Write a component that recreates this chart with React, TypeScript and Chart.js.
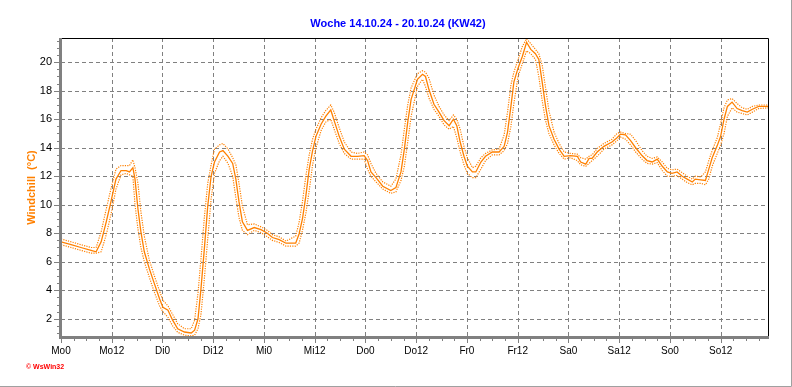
import React, { useEffect, useRef } from "react";
import { Chart, registerables } from "chart.js";

Chart.register(...registerables);

const chartTitle = "Woche 14.10.24 - 20.10.24 (KW42)";
const yAxisTitle = "Windchill  (°C)";
const copyright = "© WsWin32";
const xTickLabels = ["Mo0", "Mo12", "Di0", "Di12", "Mi0", "Mi12", "Do0", "Do12", "Fr0", "Fr12", "Sa0", "Sa12", "So0", "So12"];
const yTickValues = [2, 4, 6, 8, 10, 12, 14, 16, 18, 20];

// hours since Monday 0:00
const hours = [
  0, 2.4, 4.7, 7.1, 8.3, 9.5, 10.7, 11.8, 13.0, 14.2,
  15.4, 16.2, 17.0, 17.5, 18.2, 18.9, 19.7, 20.9, 22.1, 23.3,
  24.1, 25.3, 26.4, 27.6, 29.2, 30.8, 31.6, 32.4, 33.1, 33.9,
  34.7, 35.5, 36.3, 37.5, 38.3, 39.5, 40.6, 41.35, 42.1, 42.9,
  44.1, 45.7, 47.3, 48.8, 50.0, 51.6, 53.2, 55.5, 56.3, 57.1,
  57.9, 58.7, 59.5, 60.3, 61.5, 62.6, 63.8, 64.6, 65.8, 67.0,
  68.6, 70.1, 71.7, 72.5, 73.3, 74.5, 76.1, 78.0, 79.2, 80.4,
  81.2, 82.0, 82.8, 84.3, 85.5, 86.2, 87.0, 88.2, 89.4, 90.6,
  91.8, 92.8, 93.6, 94.4, 95.3, 96.1, 97.3, 98.1, 99.3, 100.4,
  102.0, 103.6, 104.8, 105.6, 106.4, 107.1, 108.1, 109.1, 110.1, 111.1,
  112.2, 113.0, 113.8, 114.6, 115.4, 116.6, 117.8, 119.0, 120.5, 122.1,
  122.9, 124.1, 124.9, 125.6, 126.8, 128.4, 130.3, 131.5, 132.3, 133.5,
  134.7, 135.9, 137.4, 138.6, 139.8, 141.0, 142.2, 143.4, 144.5, 145.7,
  146.9, 148.1, 149.3, 150.0, 151.3, 152.4, 153.2, 154.0, 155.2, 156.0,
  156.8, 157.6, 158.7, 159.9, 161.1, 162.3, 163.5, 165.0, 167.2,
];

const windchill = [
  7.4, 7.2, 7.0, 6.8, 6.7, 7.4, 8.8, 10.2, 11.8, 12.4,
  12.4, 12.3, 12.6, 11.8, 9.7, 8.1, 6.7, 5.5, 4.45, 3.4,
  2.8, 2.6, 1.9, 1.3, 1.07, 1.0, 1.2, 2.0, 4.1, 6.9,
  9.9, 12.0, 13.0, 13.7, 13.8, 13.4, 12.9, 11.8, 10.2, 8.8,
  8.2, 8.4, 8.25, 8.0, 7.7, 7.55, 7.3, 7.3, 7.95, 9.0,
  10.6, 12.5, 13.8, 14.8, 15.65, 16.2, 16.65, 15.9, 14.8, 13.9,
  13.4, 13.4, 13.45, 13.1, 12.3, 11.9, 11.3, 11.0, 11.2, 12.3,
  13.9, 15.8, 17.4, 18.8, 19.15, 19.0, 18.1, 17.05, 16.5, 15.9,
  15.55, 16.0, 15.55, 14.4, 13.4, 12.7, 12.3, 12.3, 13.0, 13.4,
  13.7, 13.7, 14.1, 15.1, 16.9, 18.6, 19.6, 20.4, 21.4, 20.9,
  20.6, 20.2, 18.6, 16.9, 15.55, 14.6, 13.9, 13.4, 13.45, 13.4,
  13.0, 12.85, 13.25, 13.25, 13.7, 14.1, 14.4, 14.7, 14.95, 14.9,
  14.5, 14.0, 13.45, 13.1, 13.0, 13.2, 12.7, 12.3, 12.2, 12.3,
  12.0, 11.8, 11.6, 11.8, 11.75, 11.7, 12.5, 13.3, 14.15, 14.8,
  16.0, 16.9, 17.2, 16.75, 16.6, 16.5, 16.7, 16.9, 16.9,
];

const windchillHigh = [
  7.6, 7.4, 7.2, 7.0, 7.0, 8.1, 9.7, 11.1, 12.5, 12.75,
  12.75, 12.75, 13.15, 12.6, 11.5, 9.5, 7.8, 6.1, 5.0, 3.95,
  3.3, 2.9, 2.3, 1.65, 1.3, 1.3, 1.9, 3.8, 6.2, 9.1,
  11.5, 12.8, 13.9, 14.2, 14.3, 13.9, 13.3, 12.8, 11.5, 9.9,
  8.6, 8.65, 8.45, 8.2, 7.9, 7.75, 7.45, 7.8, 8.75, 10.2,
  12.0, 13.5, 14.6, 15.3, 16.1, 16.6, 17.0, 16.5, 15.4, 14.4,
  13.7, 13.6, 13.7, 13.5, 12.9, 12.2, 11.6, 11.3, 11.8, 13.5,
  15.3, 17.0, 18.2, 19.2, 19.4, 19.3, 18.9, 17.7, 16.9, 16.3,
  15.9, 16.3, 16.0, 15.3, 14.1, 13.3, 12.6, 12.7, 13.3, 13.6,
  13.85, 13.9, 14.9, 16.5, 18.4, 19.3, 20.2, 21.1, 21.65, 21.3,
  20.9, 20.6, 19.8, 18.2, 16.6, 15.1, 14.3, 13.7, 13.6, 13.55,
  13.3, 13.2, 13.4, 13.5, 13.95, 14.3, 14.6, 15.0, 15.1, 15.0,
  14.95, 14.5, 13.8, 13.4, 13.25, 13.35, 13.0, 12.55, 12.45, 12.5,
  12.25, 12.0, 11.8, 12.0, 11.95, 12.3, 13.1, 13.8, 14.7, 15.7,
  16.8, 17.35, 17.45, 17.1, 16.8, 16.7, 16.9, 17.0, 17.0,
];

const windchillLow = [
  7.2, 7.0, 6.8, 6.6, 6.6, 6.7, 7.9, 9.3, 11.1, 12.1,
  12.2, 12.1, 12.0, 10.0, 8.3, 7.0, 6.0, 4.9, 3.85, 2.9,
  2.5, 2.1, 1.5, 1.05, 0.85, 0.8, 0.85, 1.3, 2.3, 4.8,
  7.6, 10.4, 12.2, 13.1, 13.4, 12.9, 12.0, 10.5, 9.1, 8.2,
  7.9, 8.2, 8.05, 7.75, 7.5, 7.35, 7.1, 7.1, 7.3, 8.2,
  9.4, 11.0, 12.8, 14.0, 15.2, 15.8, 16.0, 15.3, 14.3, 13.6,
  13.2, 13.2, 13.2, 12.5, 12.0, 11.6, 11.1, 10.8, 10.9, 11.7,
  12.7, 14.4, 16.2, 18.3, 18.8, 18.3, 17.5, 16.7, 16.2, 15.6,
  15.3, 15.5, 14.7, 13.7, 12.8, 12.2, 11.9, 11.9, 12.5, 13.1,
  13.5, 13.5, 13.8, 14.3, 15.5, 17.1, 19.0, 19.9, 20.8, 20.6,
  20.2, 19.0, 17.3, 15.9, 15.0, 14.2, 13.6, 13.2, 13.3, 13.1,
  12.8, 12.7, 12.9, 13.1, 13.4, 13.9, 14.2, 14.5, 14.75, 14.6,
  14.2, 13.7, 13.2, 12.9, 12.85, 12.95, 12.4, 12.0, 12.0, 12.05,
  11.8, 11.55, 11.4, 11.5, 11.5, 11.4, 11.8, 12.7, 13.6, 14.2,
  15.0, 16.2, 16.8, 16.5, 16.4, 16.3, 16.5, 16.75, 16.8,
];

const ORANGE = "#ff8000";
const FONT = "'Liberation Sans', Arial, sans-serif";

const toPoints = (vals: number[]) => vals.map((v, i) => ({ x: hours[i], y: v }));

const decorPlugin = {
  id: "decor",
  beforeDatasetsDraw(chart: any) {
    const { ctx, chartArea: a, scales } = chart;
    const xs = scales.x;
    const ys = scales.y;
    ctx.save();
    ctx.strokeStyle = "#808080";
    ctx.lineWidth = 1;
    ctx.setLineDash([4, 3]);
    xTickLabels.forEach((_, i) => {
      if (i === 0) return;
      const x = Math.round(xs.getPixelForValue(i * 12)) + 0.5;
      ctx.beginPath();
      ctx.moveTo(x, a.top);
      ctx.lineTo(x, a.bottom);
      ctx.stroke();
    });
    yTickValues.forEach((v) => {
      const y = Math.round(ys.getPixelForValue(v)) + 0.5;
      ctx.beginPath();
      ctx.moveTo(a.left, y);
      ctx.lineTo(a.right, y);
      ctx.stroke();
    });
    ctx.restore();
  },
  afterDraw(chart: any) {
    const { ctx, chartArea: a, scales, width, height } = chart;
    const xs = scales.x;
    const ys = scales.y;
    ctx.save();
    ctx.setLineDash([]);
    ctx.strokeStyle = "#000000";
    ctx.lineWidth = 1;
    ctx.beginPath();
    ctx.moveTo(a.left, a.top + 0.5);
    ctx.lineTo(a.right + 0.5, a.top + 0.5);
    ctx.lineTo(a.right + 0.5, a.bottom);
    ctx.stroke();
    ctx.fillStyle = "#808080";
    ctx.fillRect(a.left - 2, a.top, 3, a.bottom - a.top + 2);
    ctx.fillRect(a.left - 2, a.bottom - 1, a.right - a.left + 3, 3);
    ctx.strokeStyle = "#808080";
    ctx.lineWidth = 1;
    for (let h = 0; h <= xs.max; h += 3) {
      const x = Math.round(xs.getPixelForValue(h)) + 0.5;
      const major = h % 12 === 0;
      ctx.beginPath();
      ctx.moveTo(x, a.bottom + 2);
      ctx.lineTo(x, a.bottom + (major ? 6 : 4));
      ctx.stroke();
    }
    for (let v = 1; v <= ys.max; v += 0.5) {
      const y = Math.round(ys.getPixelForValue(v)) + 0.5;
      const major = Math.abs(v % 2) < 1e-6;
      ctx.beginPath();
      ctx.moveTo(a.left - 2, y);
      ctx.lineTo(a.left - (major ? 7 : 4), y);
      ctx.stroke();
    }
    ctx.fillStyle = "#0000ff";
    ctx.font = `bold 11px ${FONT}`;
    ctx.textAlign = "center";
    ctx.textBaseline = "middle";
    ctx.fillText(chartTitle, 398, 24);
    ctx.save();
    ctx.translate(32, (a.top + a.bottom) / 2);
    ctx.rotate(-Math.PI / 2);
    ctx.fillStyle = ORANGE;
    ctx.font = `bold 11px ${FONT}`;
    ctx.fillText(yAxisTitle, 0, 0);
    ctx.restore();
    ctx.fillStyle = "#ff0000";
    ctx.font = `bold 7px ${FONT}`;
    ctx.textAlign = "left";
    ctx.fillText(copyright, 26, 367);
    ctx.strokeStyle = "#a0a0a0";
    ctx.beginPath();
    ctx.moveTo(width - 0.5, 0);
    ctx.lineTo(width - 0.5, height - 0.5);
    ctx.lineTo(0, height - 0.5);
    ctx.stroke();
    ctx.restore();
  },
};

export default function App() {
  const ref = useRef<HTMLCanvasElement | null>(null);
  useEffect(() => {
    if (!ref.current) return;
    const chart = new Chart(ref.current, {
      type: "line",
      data: {
        datasets: [
          {
            label: "max",
            data: toPoints(windchillHigh),
            borderColor: ORANGE,
            borderWidth: 1.2,
            borderDash: [1.2, 1.2],
            pointRadius: 0,
            tension: 0,
            fill: false,
          },
          {
            label: "min",
            data: toPoints(windchillLow),
            borderColor: ORANGE,
            borderWidth: 1.2,
            borderDash: [1.2, 1.2],
            pointRadius: 0,
            tension: 0,
            fill: false,
          },
          {
            label: "Windchill",
            data: toPoints(windchill),
            borderColor: ORANGE,
            borderWidth: 1.3,
            pointRadius: 0,
            tension: 0,
            fill: false,
          },
        ],
      },
      options: {
        animation: false,
        responsive: false,
        devicePixelRatio: 1,
        layout: { padding: { top: 38, right: 24, left: 0, bottom: 0 } },
        plugins: { legend: { display: false }, title: { display: false }, tooltip: { enabled: false } },
        scales: {
          x: {
            type: "linear",
            min: 0,
            max: 167.2,
            grid: { display: false, drawTicks: false },
            border: { display: false },
            afterFit: (s: any) => { s.height = 50; },
            afterBuildTicks: (s: any) => { s.ticks = xTickLabels.map((_, i) => ({ value: i * 12 })); },
            ticks: {
              autoSkip: false,
              maxRotation: 0,
              padding: 8,
              color: "#000000",
              font: { family: FONT, size: 10 },
              callback: (v: any) => xTickLabels[Math.round(Number(v) / 12)] ?? "",
            },
          },
          y: {
            type: "linear",
            min: 0.72,
            max: 21.7,
            grid: { display: false, drawTicks: false },
            border: { display: false },
            afterFit: (s: any) => { s.width = 61; },
            afterBuildTicks: (s: any) => { s.ticks = yTickValues.map((v) => ({ value: v })); },
            ticks: {
              padding: 9,
              color: "#000000",
              font: { family: FONT, size: 11 },
              callback: (v: any) => String(v),
            },
          },
        },
      },
      plugins: [decorPlugin],
    } as any);
    return () => chart.destroy();
  }, []);
  return (
    <div style={{ position: "absolute", left: 0, top: 0, width: 792, height: 387, background: "#ffffff" }}>
      <canvas ref={ref} width={792} height={387} style={{ display: "block" }} />
    </div>
  );
}
